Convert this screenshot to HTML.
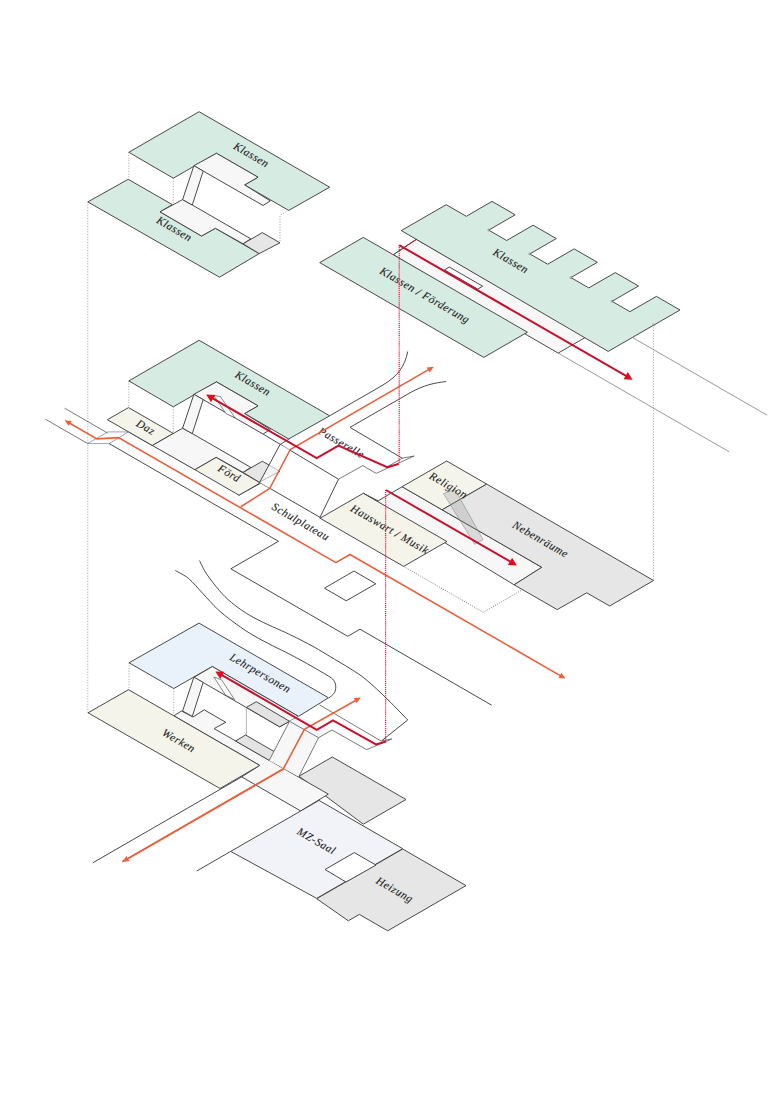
<!DOCTYPE html>
<html><head><meta charset="utf-8"><title>Diagram</title>
<style>
html,body{margin:0;padding:0;background:#fff;}
svg{display:block;}
text{font-family:"Liberation Serif",serif;font-style:italic;fill:#1a1a1a;stroke:#1a1a1a;stroke-width:0.1px;}
</style></head>
<body>
<svg width="780" height="1103" viewBox="0 0 780 1103">
<rect width="780" height="1103" fill="#ffffff"/>
<polygon points="199.1,111.7 329.7,187.2 288.7,210.4 244.6,184.9 258.0,177.2 216.5,153.3 173.3,178.2 128.8,152.3" fill="#d6ebe1" stroke="#404040" stroke-width="0.95" stroke-linejoin="miter" />
<polygon points="216.5,153.3 258.0,177.2 244.6,184.9 270.3,200.9 263.1,205.5 193.9,165.7" fill="#f7f7f7" stroke="#404040" stroke-width="0.95" stroke-linejoin="miter" />
<polygon points="128.2,179.3 172.3,204.6 160.0,211.8 201.5,236.0 215.4,228.3 259.2,253.6 219.5,277.2 87.8,201.9" fill="#d6ebe1" stroke="#404040" stroke-width="0.95" stroke-linejoin="miter" />
<polygon points="160.0,211.8 182.6,199.6 192.3,205.0 250.8,238.8 243.1,243.8 215.4,228.3 201.5,236.0" fill="#f7f7f7" stroke="#404040" stroke-width="0.95" stroke-linejoin="miter" />
<polygon points="193.9,165.7 203.2,171.0 192.3,205.0 182.6,199.6" fill="#f7f7f7" stroke="#404040" stroke-width="0.95" stroke-linejoin="miter" />
<polygon points="243.1,243.8 262.3,232.6 280.0,242.8 259.2,253.6" fill="#e6e6e6" stroke="#404040" stroke-width="0.95" stroke-linejoin="miter" />
<polyline points="128.8,152.3 128.8,179.3" fill="none" stroke="#777" stroke-width="0.7" stroke-dasharray="1 1.67"/>
<polyline points="173.3,178.2 173.3,204.6" fill="none" stroke="#777" stroke-width="0.7" stroke-dasharray="1 1.67"/>
<polyline points="288.7,210.4 280.0,215.4 280.0,242.8" fill="none" stroke="#777" stroke-width="0.7" stroke-dasharray="1 1.67"/>
<polyline points="87.8,201.9 87.8,712.8" fill="none" stroke="#777" stroke-width="0.7" stroke-dasharray="1 1.67"/>
<text x="251.5" y="154.5" transform="rotate(30 251.5 154.5)" font-size="11.2" letter-spacing="0.5" text-anchor="middle" dominant-baseline="central">Klassen</text>
<text x="174.5" y="228.5" transform="rotate(30 174.5 228.5)" font-size="11.2" letter-spacing="0.5" text-anchor="middle" dominant-baseline="central">Klassen</text>
<polygon points="393.3,254.7 416.4,239.3 585.9,337.1 558.2,353.1 527.4,335.3" fill="#f7f7f7" stroke="#404040" stroke-width="0.95" stroke-linejoin="miter" />
<polygon points="319.7,262.6 363.3,237.4 527.4,332.2 483.8,357.4" fill="#d6ebe1" stroke="#404040" stroke-width="0.95" stroke-linejoin="miter" />
<polygon points="401.3,230.6 446.2,204.7 466.3,216.3 492.0,201.4 515.2,214.8 488.7,230.1 506.6,240.5 533.1,225.2 556.3,238.6 529.8,253.9 547.7,264.2 574.2,248.9 597.4,262.3 570.9,277.6 588.8,287.9 615.3,272.6 638.5,286.0 612.0,301.3 629.9,311.7 656.4,296.4 680.0,310.0 608.2,351.4" fill="#d6ebe1" stroke="#404040" stroke-width="0.95" stroke-linejoin="miter" />
<polyline points="393.3,254.7 416.4,239.3" fill="none" stroke="#404040" stroke-width="0.6" />
<polyline points="399.2,250.9 416.4,239.3" fill="none" stroke="#c8102e" stroke-width="0.8" />
<polygon points="444.5,269.9 449.3,267.0 482.6,286.2 477.8,289.1" fill="#ffffff" stroke="#404040" stroke-width="0.95" stroke-linejoin="miter" />
<polyline points="632.3,337.4 767.1,415.2" fill="none" stroke="#6e6e6e" stroke-width="0.7" />
<polyline points="558.2,353.1 729.2,451.8" fill="none" stroke="#6e6e6e" stroke-width="0.7" />
<circle cx="488.7" cy="230.1" r="0.9" fill="#fff" stroke="#404040" stroke-width="0.5"/>
<circle cx="529.8" cy="253.9" r="0.9" fill="#fff" stroke="#404040" stroke-width="0.5"/>
<circle cx="570.9" cy="277.6" r="0.9" fill="#fff" stroke="#404040" stroke-width="0.5"/>
<circle cx="612.0" cy="301.3" r="0.9" fill="#fff" stroke="#404040" stroke-width="0.5"/>
<circle cx="653.8" cy="324.8" r="0.9" fill="#fff" stroke="#404040" stroke-width="0.5"/>
<polyline points="653.5,324.8 653.5,580.5" fill="none" stroke="#777" stroke-width="0.7" stroke-dasharray="1 1.67"/>
<text x="425.0" y="295.0" transform="rotate(30 425.0 295.0)" font-size="11.2" letter-spacing="0.5" text-anchor="middle" dominant-baseline="central">Klassen / Förderung</text>
<text x="511.0" y="260.5" transform="rotate(30 511.0 260.5)" font-size="11.2" letter-spacing="0.5" text-anchor="middle" dominant-baseline="central">Klassen</text>
<polyline points="64.6,408.2 107.7,433.1" fill="none" stroke="#404040" stroke-width="0.7" />
<polyline points="45.4,419.2 87.7,443.6" fill="none" stroke="#404040" stroke-width="0.7" />
<polyline points="87.7,443.6 107.7,431.9 128.5,431.9 109.2,443.6 87.7,443.6" fill="none" stroke="#4a6a8a" stroke-width="0.6" />
<polyline points="128.5,431.9 152.3,445.6" fill="none" stroke="#404040" stroke-width="0.95" />
<polyline points="109.2,443.6 243.1,520.9 278.5,541.3 230.8,568.8 347.7,636.3 360.0,629.2 491.7,705.2" fill="none" stroke="#404040" stroke-width="0.95" />
<polyline points="263.1,434.1 338.5,479.2 319.6,518.2" fill="none" stroke="#404040" stroke-width="0.95" />
<polyline points="338.5,479.2 362.8,465.6 376.2,473.4 414.1,456.0 402.3,458.2 387.0,467.0" fill="none" stroke="#404040" stroke-width="0.7" />
<polyline points="259.2,482.2 320.0,517.3" fill="none" stroke="#404040" stroke-width="0.95" />
<polyline points="152.3,444.9 194.9,469.5" fill="none" stroke="#404040" stroke-width="0.95" />
<polyline points="238.5,495.4 260.3,483.3" fill="none" stroke="#404040" stroke-width="0.95" />
<path d="M329.7,415.8 L383,385 C398,376 405,366 407.7,351.5" fill="none" stroke="#404040" stroke-width="0.95" />
<path d="M350,427.4 L410,392.8 C424,385 434,383 446.2,381.5" fill="none" stroke="#404040" stroke-width="0.95" />
<polyline points="350.0,427.4 402.3,458.2" fill="none" stroke="#404040" stroke-width="0.95" />
<polygon points="199.1,340.3 329.7,415.8 288.7,439.0 244.6,413.5 258.0,405.8 216.5,381.9 173.3,406.8 128.8,380.9" fill="#d6ebe1" stroke="#404040" stroke-width="0.95" stroke-linejoin="miter" />
<polygon points="216.5,381.9 258.0,405.8 244.6,413.5 270.3,429.5 263.1,434.1 193.9,394.3" fill="#f7f7f7" stroke="#404040" stroke-width="0.95" stroke-linejoin="miter" />
<polygon points="107.4,419.7 128.5,407.6 173.3,433.4 152.3,445.5" fill="#f5f4ea" stroke="#404040" stroke-width="0.95" stroke-linejoin="miter" />
<polygon points="152.3,445.5 182.6,428.2 192.3,433.6 250.8,467.4 243.1,472.4 216.2,457.4 194.9,469.7" fill="#f7f7f7" stroke="#404040" stroke-width="0.95" stroke-linejoin="miter" />
<polygon points="193.9,394.3 203.2,399.6 192.3,433.6 182.6,428.2" fill="#f7f7f7" stroke="#404040" stroke-width="0.95" stroke-linejoin="miter" />
<polygon points="194.9,469.7 216.2,457.4 260.3,482.9 239.0,495.2" fill="#f5f4ea" stroke="#404040" stroke-width="0.95" stroke-linejoin="miter" />
<polygon points="243.1,472.4 262.3,461.2 280.0,471.4 259.2,482.2" fill="#e6e6e6" stroke="#404040" stroke-width="0.95" stroke-linejoin="miter" />
<polygon points="280.0,444.6 290.3,449.5 269.7,488.5 259.5,482.6" fill="rgba(255,255,255,0.6)" stroke="none" stroke-width="0.95" stroke-linejoin="miter" />
<polyline points="280.0,444.6 259.5,482.6" fill="none" stroke="#404040" stroke-width="0.95" />
<polyline points="289.2,438.9 280.0,444.6" fill="none" stroke="#404040" stroke-width="0.95" />
<polyline points="128.8,380.9 128.8,407.6" fill="none" stroke="#777" stroke-width="0.7" stroke-dasharray="1 1.67"/>
<polyline points="173.3,406.8 173.3,433.4" fill="none" stroke="#777" stroke-width="0.7" stroke-dasharray="1 1.67"/>
<polygon points="213.6,395.2 220.5,396.8 235.0,417.8 226.0,413.6" fill="#fbfbfb" stroke="#404040" stroke-width="0.6" stroke-linejoin="miter" />
<polygon points="363.3,493.3 378.2,500.8 402.1,486.7 541.8,567.3 514.1,584.8" fill="#f7f7f7" stroke="#404040" stroke-width="0.95" stroke-linejoin="miter" />
<polygon points="320.0,518.2 363.3,493.3 446.9,541.5 403.6,566.4" fill="#f5f4ea" stroke="#404040" stroke-width="0.95" stroke-linejoin="miter" />
<polygon points="402.1,486.7 446.7,461.0 486.7,484.1 442.1,509.8" fill="#f5f4ea" stroke="#404040" stroke-width="0.95" stroke-linejoin="miter" />
<polygon points="442.1,509.8 486.7,484.1 653.5,580.5 609.7,606.0 586.7,592.8 557.2,609.6 514.1,584.8 541.8,567.3" fill="#e6e6e6" stroke="#404040" stroke-width="0.95" stroke-linejoin="miter" />
<polyline points="403.6,566.4 483.3,612.3 522.7,589.5" fill="none" stroke="#444" stroke-width="0.7" stroke-dasharray="1 1.4"/>
<polygon points="443.5,493.5 455.0,489.6 483.2,539.7 474.6,544.3" fill="rgba(160,160,160,0.32)" stroke="#8c8c8c" stroke-width="0.6" stroke-linejoin="miter" />
<polygon points="324.5,588.2 354.0,571.0 375.8,583.8 346.2,600.8" fill="#fff" stroke="#404040" stroke-width="0.95" stroke-linejoin="miter" />
<text x="253.0" y="383.0" transform="rotate(30 253.0 383.0)" font-size="11.2" letter-spacing="0.5" text-anchor="middle" dominant-baseline="central">Klassen</text>
<text x="146.0" y="427.0" transform="rotate(30 146.0 427.0)" font-size="11.2" letter-spacing="0.5" text-anchor="middle" dominant-baseline="central">Daz</text>
<text x="229.5" y="473.0" transform="rotate(30 229.5 473.0)" font-size="11.2" letter-spacing="0.5" text-anchor="middle" dominant-baseline="central">Förd</text>
<text x="341.7" y="442.5" transform="rotate(30 341.7 442.5)" font-size="11.2" letter-spacing="0.5" text-anchor="middle" dominant-baseline="central">Passerelle</text>
<text x="301.0" y="521.5" transform="rotate(30 301.0 521.5)" font-size="11.2" letter-spacing="0.5" text-anchor="middle" dominant-baseline="central">Schulplateau</text>
<text x="390.0" y="529.0" transform="rotate(30 390.0 529.0)" font-size="11.2" letter-spacing="0.5" text-anchor="middle" dominant-baseline="central">Hauswart / Musik</text>
<text x="448.7" y="485.0" transform="rotate(30 448.7 485.0)" font-size="11.2" letter-spacing="0.5" text-anchor="middle" dominant-baseline="central">Religion</text>
<text x="540.8" y="539.0" transform="rotate(30 540.8 539.0)" font-size="11.2" letter-spacing="0.5" text-anchor="middle" dominant-baseline="central">Nebenräume</text>
<path d="M199.5,560.6 C200.7,562.9 203.4,569.2 206.7,574.1 C210.0,579.0 215.0,585.5 219.2,590.3 C223.4,595.1 226.7,598.6 231.8,602.8 C236.9,607.0 243.8,611.8 249.8,615.4 C255.8,619.0 261.7,621.6 267.7,624.5 C273.7,627.4 280.3,630.1 285.7,632.6 C291.1,635.1 295.1,637.1 300.0,639.6 C304.9,642.1 310.0,644.7 315.0,647.5 C320.0,650.3 324.2,653.0 330.0,656.5 C335.8,660.0 344.0,664.6 350.0,668.5 C356.0,672.4 359.9,674.5 366.2,679.7 C372.5,684.9 381.1,693.1 388.0,699.8 C394.9,706.5 404.4,716.6 407.7,720.0 L382,740.5" fill="none" stroke="#404040" stroke-width="0.95" />
<path d="M175.3,570.5 C177.5,571.9 184.1,574.7 188.7,578.6 C193.3,582.5 198.3,588.7 203.1,593.8 C207.9,598.9 212.6,604.5 217.4,609.0 C222.2,613.5 226.4,616.8 231.8,620.8 C237.2,624.8 243.8,629.6 249.8,633.3 C255.8,637.0 261.7,640.1 267.7,643.2 C273.7,646.4 280.3,649.5 285.7,652.2 C291.1,655.0 295.4,657.2 300.0,659.7 C304.6,662.2 308.7,664.5 313.0,667.0 C317.3,669.5 322.8,672.6 326.0,674.6 C329.2,676.6 330.9,677.3 332.5,679.0 C334.1,680.7 335.2,682.5 335.6,684.8 C336.0,687.0 335.7,690.3 334.6,692.5 C333.5,694.7 329.9,697.0 329.0,697.9" fill="none" stroke="#404040" stroke-width="0.95" />
<polygon points="199.0,623.1 328.5,697.8 298.5,716.4 212.3,666.5 173.8,688.5 129.0,662.8" fill="#e9f2fb" stroke="#404040" stroke-width="0.95" stroke-linejoin="miter" />
<polygon points="193.9,677.4 212.3,666.5 298.5,716.4 279.6,726.8 203.3,682.6" fill="#f7f7f7" stroke="#404040" stroke-width="0.95" stroke-linejoin="miter" />
<polygon points="246.4,707.4 256.3,701.7 289.5,721.3 279.6,726.8" fill="#e3e3e3" stroke="#404040" stroke-width="0.95" stroke-linejoin="miter" />
<polygon points="299.0,776.2 332.3,757.0 406.0,799.5 363.3,824.2" fill="#e6e6e6" stroke="#404040" stroke-width="0.95" stroke-linejoin="miter" />
<polygon points="173.8,715.8 181.5,711.0 193.0,717.0 204.2,709.8 225.8,722.3 214.1,728.6 328.3,794.1 300.7,811.0 241.7,776.9 259.7,765.4" fill="#f7f7f7" stroke="#404040" stroke-width="0.95" stroke-linejoin="miter" />
<polygon points="88.0,712.8 128.5,689.7 259.7,765.4 220.0,788.5" fill="#f5f4ea" stroke="#404040" stroke-width="0.95" stroke-linejoin="miter" />
<polygon points="235.6,741.0 245.5,735.0 279.6,754.7 269.2,760.4" fill="#e3e3e3" stroke="#404040" stroke-width="0.95" stroke-linejoin="miter" />
<polygon points="193.9,677.1 203.2,682.4 192.3,716.4 182.6,711.0" fill="#f7f7f7" stroke="#404040" stroke-width="0.95" stroke-linejoin="miter" />
<polyline points="246.4,707.4 246.4,735.5" fill="none" stroke="#404040" stroke-width="0.4" />
<polygon points="289.5,721.3 318.6,737.7 298.8,776.7 269.2,760.4" fill="#f7f7f7" stroke="none" stroke-width="0.95" stroke-linejoin="miter" />
<polygon points="298.5,716.4 289.5,721.3 318.6,737.7 332.0,730.0" fill="#f7f7f7" stroke="none" stroke-width="0.95" stroke-linejoin="miter" />
<polyline points="289.5,721.3 269.2,760.4" fill="none" stroke="#404040" stroke-width="0.7" />
<polyline points="318.6,737.7 298.8,776.7" fill="none" stroke="#404040" stroke-width="0.7" />
<polyline points="129.0,662.8 129.0,689.7" fill="none" stroke="#777" stroke-width="0.7" stroke-dasharray="1 1.67"/>
<polyline points="173.8,688.5 173.8,715.8" fill="none" stroke="#777" stroke-width="0.7" stroke-dasharray="1 1.67"/>
<polygon points="213.8,677.0 221.5,679.8 234.6,699.6 225.5,695.0" fill="#fbfbfb" stroke="#404040" stroke-width="0.6" stroke-linejoin="miter" />
<polyline points="319.5,704.9 381.0,741.0" fill="none" stroke="#404040" stroke-width="0.7" />
<polyline points="289.5,721.3 318.6,737.7" fill="none" stroke="#404040" stroke-width="0.7" />
<polyline points="318.6,737.7 332.0,730.0 366.7,749.7 391.8,739.0 381.0,741.0" fill="none" stroke="#404040" stroke-width="0.7" />
<polygon points="230.7,851.4 319.0,800.4 402.7,848.7 316.7,898.4" fill="#f2f2f9" stroke="#404040" stroke-width="0.95" stroke-linejoin="miter" />
<polygon points="316.7,898.7 346.0,881.8 376.0,864.4 402.7,849.0 466.0,885.6 387.7,930.8 359.3,914.4 348.3,920.8" fill="#e6e6e6" stroke="#404040" stroke-width="0.95" stroke-linejoin="miter" />
<polygon points="325.0,869.5 354.3,852.6 376.0,865.1 346.0,882.0" fill="#fff" stroke="#404040" stroke-width="0.95" stroke-linejoin="miter" />
<polyline points="241.7,776.9 92.8,862.8" fill="none" stroke="#404040" stroke-width="0.95" />
<polyline points="230.7,851.4 196.7,871.0" fill="none" stroke="#404040" stroke-width="0.95" />
<text x="260.5" y="672.8" transform="rotate(30 260.5 672.8)" font-size="11.2" letter-spacing="0.5" text-anchor="middle" dominant-baseline="central">Lehrpersonen</text>
<text x="179.0" y="740.4" transform="rotate(30 179.0 740.4)" font-size="11.2" letter-spacing="0.5" text-anchor="middle" dominant-baseline="central">Werken</text>
<text x="316.7" y="840.8" transform="rotate(30 316.7 840.8)" font-size="11.2" letter-spacing="0.5" text-anchor="middle" dominant-baseline="central">MZ-Saal</text>
<text x="395.0" y="889.5" transform="rotate(30 395.0 889.5)" font-size="11.2" letter-spacing="0.5" text-anchor="middle" dominant-baseline="central">Heizung</text>
<polyline points="335.9,562.6 118.5,437.6 96.9,438.9 69.4,423.0" fill="none" stroke="#e9603d" stroke-width="1.6" stroke-linejoin="miter"/>
<polygon points="64.6,420.3 71.7,420.9 68.7,426.1" fill="#e9603d"/>
<polyline points="335.9,562.6 350.0,554.5 560.7,675.9" fill="none" stroke="#e9603d" stroke-width="1.6" stroke-linejoin="miter"/>
<polygon points="565.5,678.6 558.4,678.0 561.4,672.8" fill="#e9603d"/>
<polyline points="240.8,506.7 269.7,488.5 290.3,449.5 429.0,369.4" fill="none" stroke="#e9603d" stroke-width="1.6" stroke-linejoin="miter"/>
<polygon points="433.8,366.7 429.7,372.5 426.7,367.4" fill="#e9603d"/>
<polyline points="122.3,861.8 283.3,769.0 304.4,729.3 356.0,700.2" fill="none" stroke="#e9603d" stroke-width="1.6" stroke-linejoin="miter"/>
<polygon points="360.8,697.5 356.6,703.3 353.7,698.1" fill="#e9603d"/>
<polyline points="283.3,769.0 127.1,859.1" fill="none" stroke="#e9603d" stroke-width="1.6" stroke-linejoin="miter"/>
<polygon points="122.3,861.8 126.4,856.0 129.4,861.2" fill="#e9603d"/>
<polyline points="399.2,245.1 626.5,376.2" fill="none" stroke="#c8102e" stroke-width="2.0" stroke-linejoin="miter"/>
<polygon points="632.6,379.7 623.6,379.3 627.8,372.1" fill="#e10a1e"/>
<polyline points="398.7,464.0 387.2,467.2 338.5,445.6 316.7,458.2 212.3,398.1" fill="none" stroke="#c8102e" stroke-width="2.0" stroke-linejoin="miter"/>
<polygon points="206.2,394.6 215.2,395.0 211.0,402.2" fill="#e10a1e"/>
<polyline points="385.9,490.0 510.8,561.9" fill="none" stroke="#c8102e" stroke-width="2.0" stroke-linejoin="miter"/>
<polygon points="516.9,565.4 507.9,565.0 512.1,557.8" fill="#e10a1e"/>
<polyline points="385.9,741.5 376.0,744.4 333.0,720.5 316.8,729.8 221.5,674.9" fill="none" stroke="#c8102e" stroke-width="2.0" stroke-linejoin="miter"/>
<polygon points="215.4,671.4 224.4,671.8 220.2,679.0" fill="#e10a1e"/>
<polyline points="399.2,245.1 399.2,463.5" fill="none" stroke="#d62545" stroke-width="1.25" stroke-dasharray="1.1 0.85"/>
<polyline points="385.6,490.0 385.6,741.5" fill="none" stroke="#d62545" stroke-width="1.25" stroke-dasharray="1.1 0.85"/>
</svg>
</body></html>
